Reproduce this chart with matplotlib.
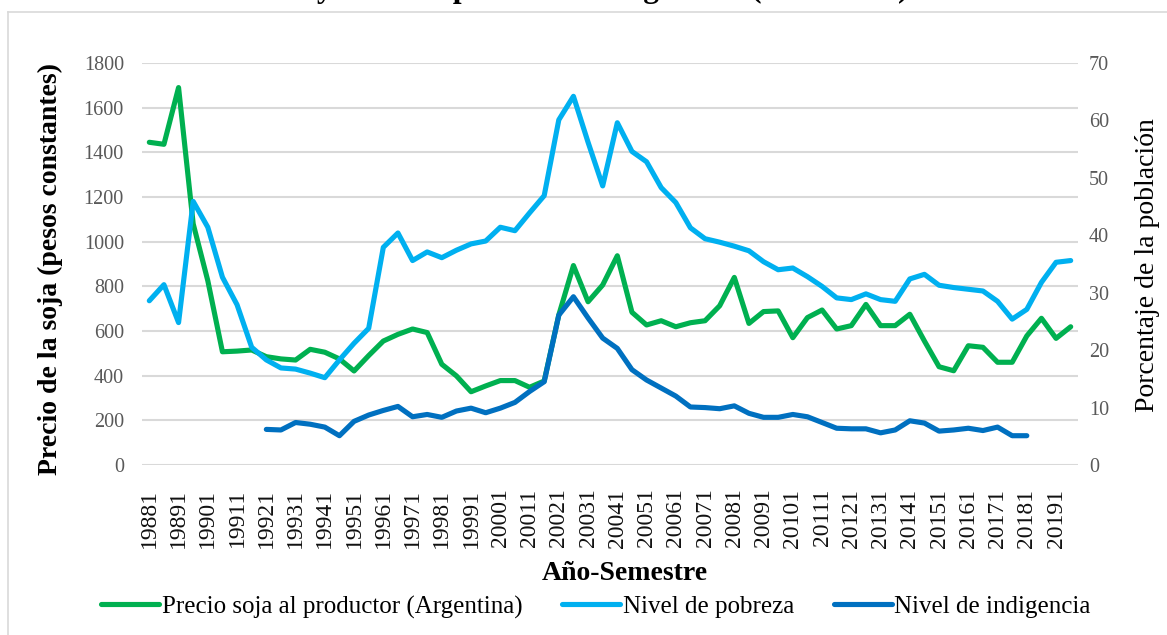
import numpy as np
import matplotlib
matplotlib.use("Agg")
import matplotlib.pyplot as plt
from matplotlib.lines import Line2D

plt.rcParams["font.family"] = ["Liberation Serif", "DejaVu Serif"]

# semesters 1988-1 ... 2019-2
periods = [f"{y}{s}" for y in range(1988, 2020) for s in (1, 2)]

precio_soja = [
    1445, 1436, 1690, 1080, 825, 507, 510, 515, 485, 475, 470, 518, 505, 475, 421, 490,
    555, 585, 609, 593, 451, 399, 328, 354, 378, 378, 348, 376, 672, 893, 731, 806,
    937, 684, 627, 646, 619, 637, 646, 713, 840, 634, 687, 690, 570, 660, 694, 609,
    624, 719, 624, 624, 675, 555, 440, 422, 534, 527, 460, 460, 578, 657, 567, 619,
]
pobreza = [
    28.6, 31.4, 24.8, 45.9, 41.4, 32.7, 27.9, 20.5, 18.3, 16.9, 16.7, 16.0, 15.2, 18.3, 21.2, 23.8,
    37.9, 40.4, 35.6, 37.1, 36.1, 37.4, 38.5, 39.0, 41.4, 40.8, 43.9, 46.9, 60.1, 64.2, 56.2, 48.6,
    59.6, 54.6, 52.8, 48.3, 45.7, 41.3, 39.4, 38.8, 38.1, 37.3, 35.4, 34.0, 34.3, 32.8, 31.1, 29.1,
    28.8, 29.8, 28.8, 28.5, 32.4, 33.2, 31.3, 30.9, 30.6, 30.3, 28.5, 25.4, 27.1, 31.8, 35.3, 35.6,
]
nan = np.nan
indigencia = [
    nan, nan, nan, nan, nan, nan, nan, nan, 6.2, 6.1, 7.4, 7.1, 6.6, 5.1, 7.6, 8.7,
    9.5, 10.2, 8.4, 8.8, 8.3, 9.4, 9.9, 9.1, 9.9, 10.9, 12.8, 14.5, 26.1, 29.3, 25.6, 22.1,
    20.3, 16.6, 14.8, 13.4, 12.0, 10.1, 10.0, 9.8, 10.3, 9.0, 8.3, 8.3, 8.8, 8.4, 7.4, 6.4,
    6.3, 6.3, 5.6, 6.1, 7.7, 7.3, 5.9, 6.1, 6.4, 6.0, 6.6, 5.1, 5.1, nan, nan, nan,
]

GREEN = "#00B050"
LIGHT_BLUE = "#00B0F0"
DARK_BLUE = "#0070C0"
GRID = "#D9D9D9"
TICK = "#595959"

W, H = 1167, 635
fig = plt.figure(figsize=(W / 100, H / 100), dpi=100)
ax = fig.add_axes([142 / W, 1 - 465 / H, (1078 - 142) / W, (465 - 63) / H])
ax2 = ax.twinx()

line_kw = dict(linewidth=3.7, solid_capstyle="round", solid_joinstyle="round")
x = np.arange(len(periods))
l1, = ax.plot(x, precio_soja, color=GREEN, **line_kw)
l2, = ax2.plot(x, pobreza, color=LIGHT_BLUE, **line_kw)
l3, = ax2.plot(x, indigencia, color=DARK_BLUE, **line_kw)

ax.set_xlim(-0.5, len(periods) - 0.5)
ax.set_ylim(0, 1800)
ax.set_yticks(range(0, 1801, 200))
ax2.set_ylim(0, 70)
ax2.set_yticks(range(0, 71, 10))
ax.set_xticks(x[::2])
ax.set_xticklabels(periods[::2], rotation=90, fontsize=17, color="#111111")

ax.grid(axis="y", color=GRID, linewidth=1.5)
ax.set_axisbelow(True)
for a in (ax, ax2):
    for s in a.spines.values():
        s.set_visible(False)
    a.tick_params(length=0)
ax.tick_params(axis="y", labelsize=14.5, labelcolor=TICK, pad=13)
ax.tick_params(axis="x", pad=17)
ax2.tick_params(axis="y", labelsize=14.5, labelcolor=TICK, pad=8)

# axis titles placed in figure pixels
fig.text(50 / W, 1 - 269 / H, "Precio de la soja (pesos constantes)",
         rotation=90, ha="center", va="center", fontsize=20, fontweight="bold")
fig.text(1148 / W, 1 - 265 / H, "Porcentaje de la población",
         rotation=90, ha="center", va="center", fontsize=20)
fig.text(625 / W, 1 - 573 / H, "Año-Semestre",
         ha="center", va="center", fontsize=20, fontweight="bold")

fig.legend([l1, l2, l3],
           ["Precio soja al productor (Argentina)", "Nivel de pobreza",
            "Nivel de indigencia"],
           loc="center", bbox_to_anchor=(596 / W, 1 - 607 / H), ncol=3,
           frameon=False, fontsize=18, handlelength=2.3, handletextpad=0.12,
           columnspacing=1.6)

# title, mostly cut off above the frame
fig.text(613 / W, 1 - 4 / H,
         "Precio de la soja al productor\ny nivel de pobreza en Argentina (1988-2019)",
         ha="center", va="bottom", fontsize=22.7, fontweight="bold")

# chart frame
fig.add_artist(Line2D([8 / W, 8 / W], [0, 1 - 12 / H], color=GRID, linewidth=1.2))
fig.add_artist(Line2D([8 / W, 1], [1 - 12 / H, 1 - 12 / H], color=GRID, linewidth=1.2))

fig.savefig("out.png", dpi=100)
